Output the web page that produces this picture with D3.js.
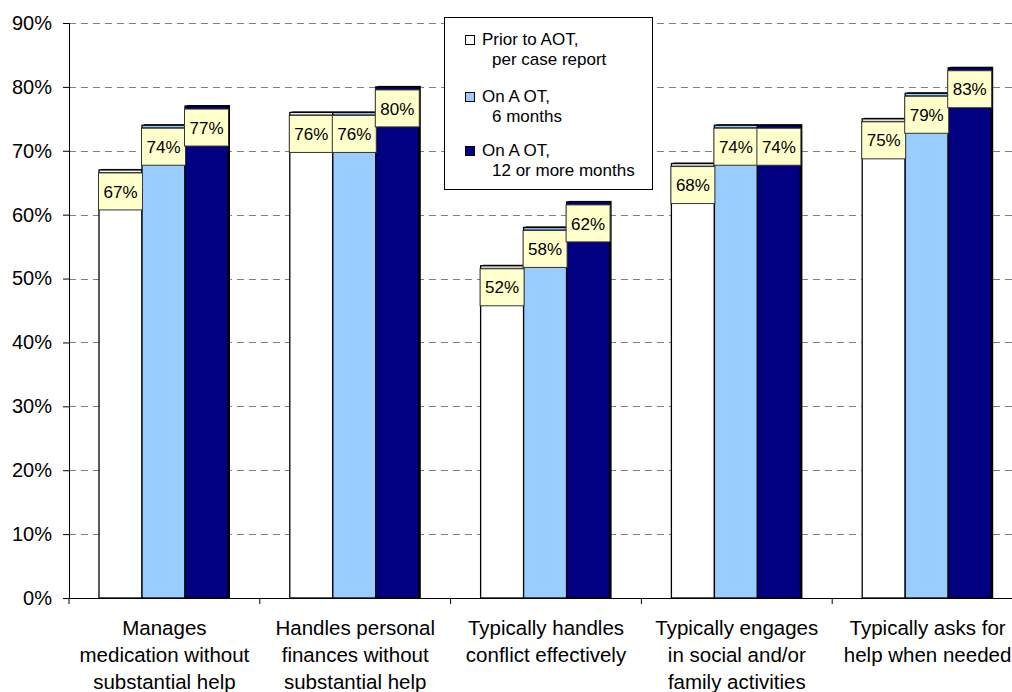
<!DOCTYPE html>
<html><head><meta charset="utf-8">
<script src="https://cdn.jsdelivr.net/npm/d3@7"></script>
<style>
html,body{margin:0;padding:0;background:#fff;}
svg{display:block;font-family:"Liberation Sans",Arial,sans-serif;}
</style></head>
<body>
<svg id="chart" width="1012" height="692"></svg>
<script>
const categories = ["Manages medication without substantial help","Handles personal finances without substantial help","Typically handles conflict effectively","Typically engages in social and/or family activities","Typically asks for help when needed"];
const categoryLines = [["Manages","medication without","substantial help"],["Handles personal","finances without","substantial help"],["Typically handles","conflict effectively"],["Typically engages","in social and/or","family activities"],["Typically asks for","help when needed"]];
const seriesNames = ["Prior to AOT, per case report","On AOT, 6 months","On AOT, 12 or more months"];
const legendLines = [["Prior to AOT,","per case report"],["On A OT,","6 months"],["On A OT,","12 or more months"]];
const priorValues = [67,76,52,68,75];
const sixMonthValues = [74,76,58,74,79];
const twelveMonthValues = [77,80,62,74,83];
const yTicks = [0,10,20,30,40,50,60,70,80,90];
const colors = ["#FFFFFF","#99CCFF","#000080"];

(function(){
const series = [priorValues, sixMonthValues, twelveMonthValues];
const svg = d3.select("#chart");
const left = 69, bandW = 190.8, plotTop = 23, bottom = 598;
const x = d3.scaleBand().domain(categories).range([left, left + bandW*categories.length]).padding(0);
const xi = d3.scaleBand().domain(seriesNames).range([30, 159]).padding(0);
const y = d3.scaleLinear().domain([0,90]).range([bottom, plotTop]);

// gridlines
svg.append("g").selectAll("line").data(yTicks.filter(t=>t>0)).join("line")
  .attr("x1", left).attr("x2", 1012).attr("y1", d=>Math.round(y(d))+0.5).attr("y2", d=>Math.round(y(d))+0.5)
  .attr("stroke", "#808080").attr("stroke-width", 1).attr("stroke-dasharray", "7,5");

// y axis
const yAxis = svg.append("g").attr("transform", `translate(${left},0)`)
  .call(d3.axisLeft(y).tickValues(yTicks).tickFormat(d=>d+"%").tickSize(6).tickPadding(11));
yAxis.select(".domain").attr("stroke","#000");
yAxis.selectAll("line").attr("stroke","#000");
yAxis.selectAll("text").attr("font-size", 20).attr("fill","#000").attr("font-family","Liberation Sans, Arial, sans-serif");

// bars
const bw = xi.bandwidth();
categories.forEach((c, ci) => {
  series.forEach((vals, si) => {
    const v = vals[ci];
    const bx = x(c) + xi(seriesNames[si]);
    const by = y(v);
    const g = svg.append("g");
    g.append("rect").attr("x", bx+2).attr("y", by-1).attr("width", bw).attr("height", bottom-by+1)
      .attr("fill", "#000");
    g.append("rect").attr("x", bx).attr("y", by).attr("width", bw).attr("height", bottom-by)
      .attr("fill", colors[si]).attr("stroke", "#000").attr("stroke-width", 1.3);
    g.append("line").attr("x1", bx).attr("x2", bx+bw).attr("y1", by+2.5).attr("y2", by+2.5)
      .attr("stroke", si===2 ? "#000040" : "#000").attr("stroke-width", 0.8);
  });
});
// labels
categories.forEach((c, ci) => {
  series.forEach((vals, si) => {
    const v = vals[ci];
    const bx = x(c) + xi(seriesNames[si]);
    const by = y(v);
    svg.append("rect").attr("x", bx-0.5).attr("y", by+3).attr("width", bw+1).attr("height", 37)
      .attr("fill", "#FFFFCC").attr("stroke", "#333").attr("stroke-width", 1);
    svg.append("text").attr("x", bx + bw/2).attr("y", by + 3 + 18.5).attr("dy","0.36em")
      .attr("text-anchor","middle").attr("font-size", 17).attr("fill","#000").text(v+"%");
  });
});

// x axis
const xAxis = svg.append("g").attr("transform", `translate(0,${bottom})`);
xAxis.append("line").attr("x1", left-6).attr("x2", 1012).attr("y1", 0.5).attr("y2", 0.5).attr("stroke","#000");
const bounds = d3.range(categories.length+1).map(i => left + i*bandW);
xAxis.selectAll("line.tk").data(bounds).join("line").attr("class","tk")
  .attr("x1", d=>d).attr("x2", d=>d).attr("y1", 0).attr("y2", 6).attr("stroke","#000");
categories.forEach((c, ci) => {
  const t = svg.append("text").attr("text-anchor","middle").attr("font-size", 20.5).attr("fill","#000");
  categoryLines[ci].forEach((ln, li) => {
    t.append("tspan").attr("x", x(c) + x.bandwidth()/2).attr("y", 635 + li*27).text(ln);
  });
});

// legend
const lg = svg.append("g");
lg.append("rect").attr("x", 444.5).attr("y", 17.5).attr("width", 208).attr("height", 172)
  .attr("fill","#fff").attr("stroke","#000").attr("stroke-width",1);
const baseY = [45, 102, 156];
legendLines.forEach((lines, i) => {
  lg.append("rect").attr("x", 465.5).attr("y", baseY[i]-9.5).attr("width", 9).attr("height", 9)
    .attr("fill", colors[i]).attr("stroke","#000").attr("stroke-width",1);
  lg.append("text").attr("x", 482).attr("y", baseY[i]).attr("font-size", 17).text(lines[0]);
  lg.append("text").attr("x", 492).attr("y", baseY[i]+20).attr("font-size", 17).text(lines[1]);
});
})();
</script>
</body></html>
